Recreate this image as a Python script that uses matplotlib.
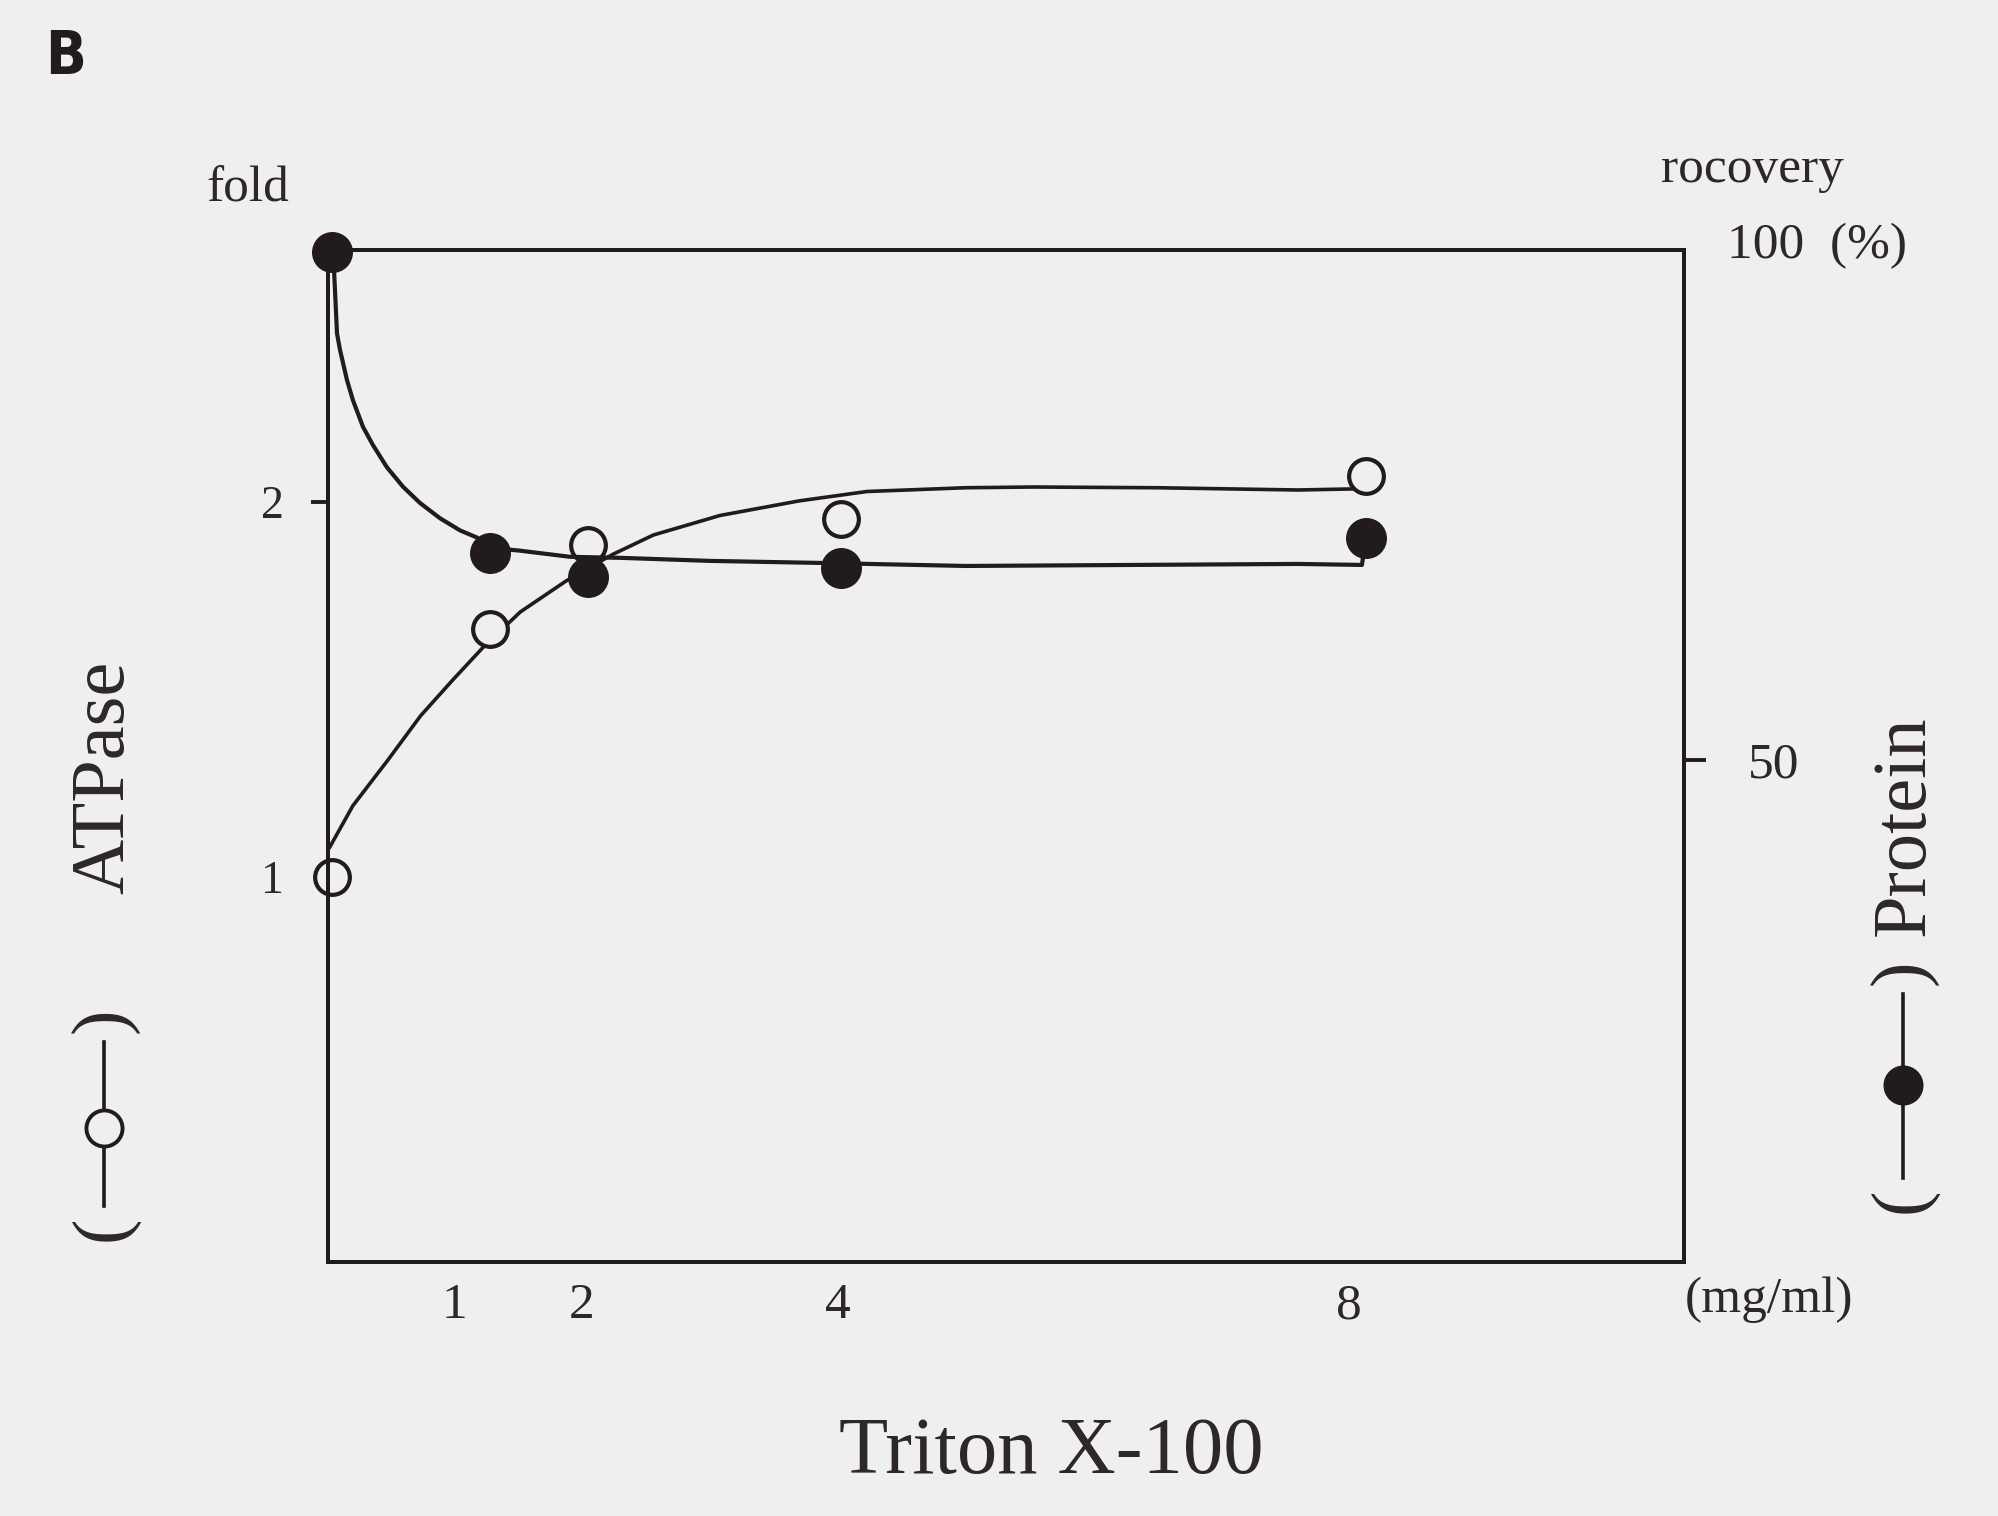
import matplotlib.pyplot as plt
from matplotlib.lines import Line2D

# Triton X-100 (mg/ml) vs ATPase activation (fold, open) and protein recovery (%, filled)
triton_atp = [0.05, 1.28, 2.05, 4.03, 8.13]
atpase_fold = [1.0, 1.66, 1.885, 1.955, 2.07]
triton_prot = [0.05, 1.28, 2.05, 4.03, 8.13]
protein_recovery = [100, 70.4, 68.0, 68.9, 71.9]

# hand-drawn guide curves
atp_curve_x = [0.03, 0.21, 0.48, 0.74, 0.99, 1.23, 1.52, 1.88, 2.24, 2.56,
               3.08, 3.7, 4.23, 5.0, 5.53, 6.5, 7.6, 8.05]
atp_curve_y = [1.08, 1.19, 1.31, 1.43, 1.525, 1.613, 1.707, 1.79, 1.86, 1.912,
               1.964, 2.003, 2.028, 2.038, 2.04, 2.038, 2.032, 2.035]
prot_curve_x = [0.05, 0.063, 0.086, 0.109, 0.164, 0.211, 0.289, 0.367, 0.477,
                0.602, 0.735, 0.891, 1.048, 1.18, 1.28, 1.52, 1.91, 2.3, 3.0,
                3.86, 5.0, 6.3, 7.6, 8.1, 8.13]
prot_curve_y = [100, 98.2, 92.0, 90.4, 87.4, 85.4, 82.8, 81.0, 78.8, 76.9,
                75.3, 73.8, 72.6, 71.9, 70.9, 70.6, 70.0, 69.9, 69.6, 69.4,
                69.1, 69.2, 69.3, 69.2, 71.9]

x_ticks = [1, 2, 4, 8]
left_ticks = [1, 2]
right_ticks = [50]

W, H = 1998, 1516
bg = "#efefee"
ink = "#211b1b"
txt = "#2e2727"


def fx(x):
    return x / W


def fy(y):
    return 1 - y / H


plt.rcParams["font.family"] = "Liberation Serif"

fig = plt.figure(figsize=(W / 100, H / 100), dpi=100, facecolor=bg)
ax = fig.add_axes([0.16416, 0.16755, 0.67868, 0.66754])
ax.set_facecolor(bg)
ax2 = ax.twinx()

ax.plot(atp_curve_x, atp_curve_y, color=ink, lw=2.6, clip_on=False)
ax.plot(triton_atp, atpase_fold, "o", ms=25, mfc=bg, mec=ink, mew=3,
        clip_on=False)
ax2.plot(prot_curve_x, prot_curve_y, color=ink, lw=3.0, clip_on=False)
ax2.plot(triton_prot, protein_recovery, "o", ms=28, mfc=ink, mec=ink,
         mew=1.5, clip_on=False)

ax.set_xlim(0.0156, 10.618)
ax.set_ylim(-0.0267, 2.672)
ax2.set_ylim(0.59, 100.2)

for a in (ax, ax2):
    for s in a.spines.values():
        s.set_linewidth(2.8)
        s.set_color(ink)

ax.set_xticks(x_ticks)
ax.set_xticklabels([str(v) for v in x_ticks])
ax.tick_params(axis="x", length=0, pad=15, labelsize=37, labelcolor=txt)
ax.set_yticks(left_ticks)
ax.set_yticklabels([str(v) for v in left_ticks])
ax.tick_params(axis="y", direction="out", length=12, width=2.8, color=ink,
               pad=20, labelsize=33, labelcolor=txt)
ax.yaxis.get_major_ticks()[0].tick1line.set_visible(False)

ax2.set_yticks(right_ticks)
ax2.set_yticklabels([str(v) for v in right_ticks])
ax2.tick_params(axis="y", direction="out", length=16, width=2.8, color=ink,
                pad=30, labelsize=37, labelcolor=txt)

fig.text(fx(66), fy(58), "B", fontsize=43, fontweight="bold",
         family="DejaVu Sans", fontstretch="condensed", color=ink,
         ha="center", va="center")
fig.text(fx(248), fy(189), "fold", fontsize=37, color=txt,
         ha="center", va="center")
fig.text(fx(1752), fy(170), "rocovery", fontsize=37, color=txt,
         ha="center", va="center")
fig.text(fx(1727), fy(246), "100  (%)", fontsize=37, color=txt,
         ha="left", va="center")
fig.text(fx(1769), fy(1300), "(mg/ml)", fontsize=37, color=txt,
         ha="center", va="center")
fig.text(fx(1051), fy(1453), "Triton X-100", fontsize=58, color=txt,
         ha="center", va="center")
fig.text(fx(105), fy(777), "ATPase", fontsize=55, color=txt, rotation=90,
         ha="center", va="center")
fig.text(fx(1905), fy(826), "Protein", fontsize=55, color=txt, rotation=90,
         ha="center", va="center")

# axis keys: ( -o- ) on the left, ( -*- ) on the right
for kx, top, mid, bot, face in [(104, 1020, 1128, 1228, bg),
                                (1903, 972, 1085, 1200, ink)]:
    fig.text(fx(kx), fy(top), ")", fontsize=55, color=txt, rotation=90,
             ha="center", va="center")
    fig.text(fx(kx), fy(bot), "(", fontsize=55, color=txt, rotation=90,
             ha="center", va="center")
    fig.add_artist(Line2D([fx(kx), fx(kx)], [fy(top + 22), fy(bot - 22)],
                          transform=fig.transFigure, color=ink, lw=2.6))
    fig.add_artist(Line2D([fx(kx)], [fy(mid)], transform=fig.transFigure,
                          marker="o", ms=26, mfc=face, mec=ink, mew=2.8))

fig.savefig("out.png", dpi=100, facecolor=bg)
